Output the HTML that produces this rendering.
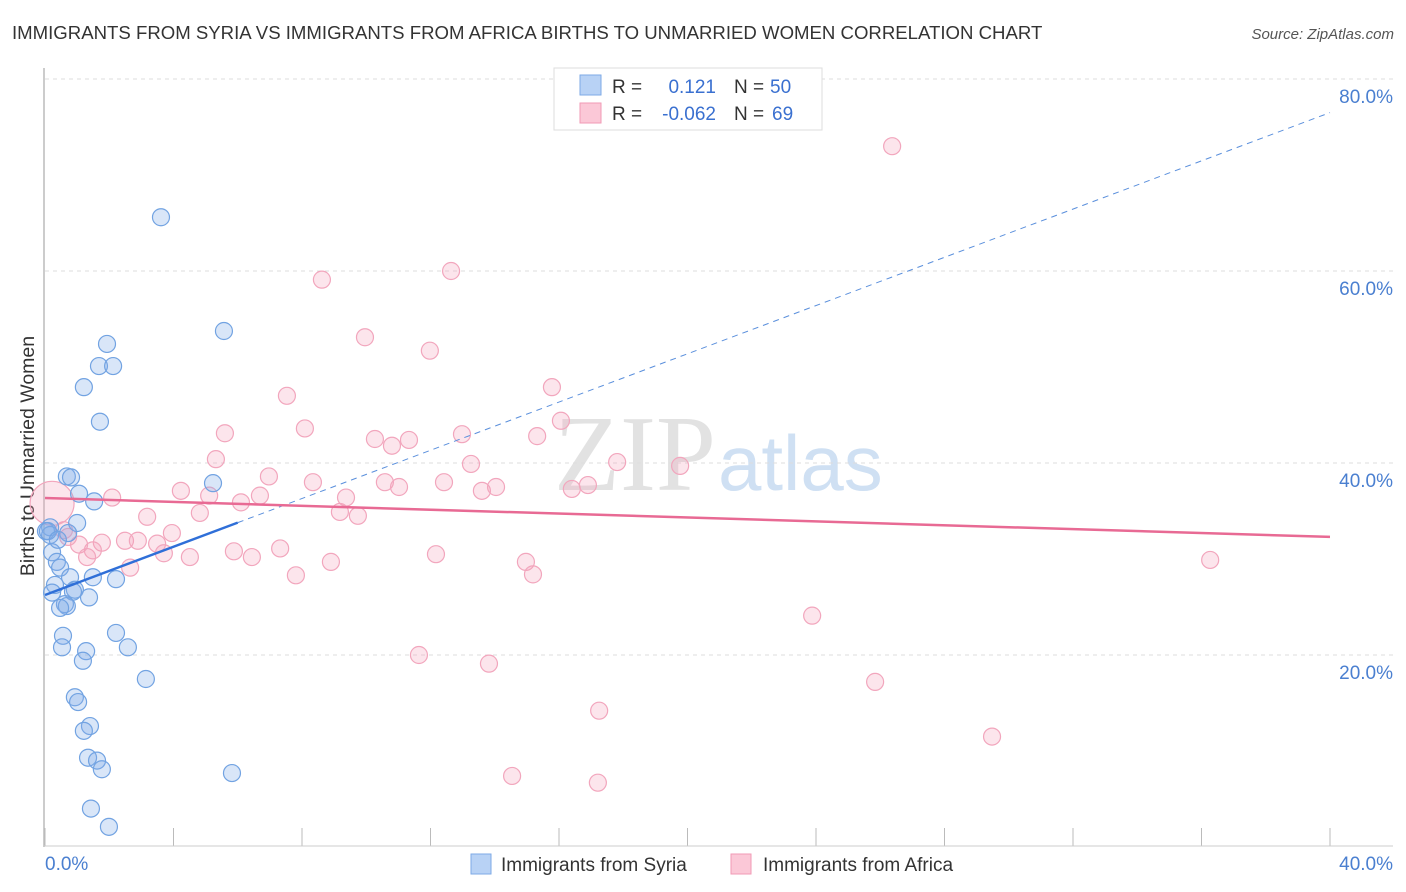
<!DOCTYPE html>
<html><head><meta charset="utf-8"><style>
body{margin:0;background:#fff;font-family:"Liberation Sans",sans-serif;}
svg{display:block}
</style></head><body>
<svg id="chart" width="1406" height="892">
<text x="12" y="39" font-size="18.6" fill="#333">IMMIGRANTS FROM SYRIA VS IMMIGRANTS FROM AFRICA BIRTHS TO UNMARRIED WOMEN CORRELATION CHART</text>
<text x="1394" y="39" font-size="15" fill="#555" font-style="italic" text-anchor="end">Source: ZipAtlas.com</text>
<text x="716" y="490" font-size="108" fill="#e2e2e2" text-anchor="end" font-family="Liberation Serif,serif">ZIP</text>
<text x="718" y="490" font-size="78" fill="#cfe0f3">atlas</text>
<g id="grid"></g>
<line x1="44" y1="68" x2="44" y2="847" stroke="#bbb" stroke-width="1.5"/>
<line x1="44" y1="846" x2="1393" y2="846" stroke="#ccc" stroke-width="1"/>
<text transform="translate(34,456) rotate(-90)" font-size="19.5" fill="#333" text-anchor="middle">Births to Unmarried Women</text>
<text x="45" y="870" font-size="19" fill="#4a7fd0">0.0%</text>
<text x="1393" y="870" font-size="19" fill="#4a7fd0" text-anchor="end">40.0%</text>
<g id="marks"></g>
<g>
<rect x="554" y="68" width="268" height="62" fill="#fff" stroke="#ddd"/>
<rect x="580" y="75" width="21" height="20" fill="#b8d2f5" stroke="#7eaae6"/>
<rect x="580" y="103" width="21" height="20" fill="#fbc8d7" stroke="#f09ab5"/>
<text x="612" y="93" font-size="19" fill="#333">R =</text>
<text x="716" y="93" font-size="19" fill="#3a70d0" text-anchor="end">0.121</text>
<text x="734" y="93" font-size="19" fill="#333">N =</text>
<text x="770" y="93" font-size="19" fill="#3a70d0">50</text>
<text x="612" y="120" font-size="19" fill="#333">R =</text>
<text x="716" y="120" font-size="19" fill="#3a70d0" text-anchor="end">-0.062</text>
<text x="734" y="120" font-size="19" fill="#333">N =</text>
<text x="772" y="120" font-size="19" fill="#3a70d0">69</text>
</g>
<g>
<rect x="471" y="854" width="20" height="20" fill="#b8d2f5" stroke="#7eaae6"/>
<text x="501" y="871" font-size="19" fill="#333">Immigrants from Syria</text>
</g>
<g>
<rect x="731" y="854" width="20" height="20" fill="#fbc8d7" stroke="#f09ab5"/>
<text x="763" y="871" font-size="19" fill="#333">Immigrants from Africa</text>
</g>
</svg>
<script>
const yTicks=[20,40,60,80];
const yTickLabels=["20.0%","40.0%","60.0%","80.0%"];
const xTicks=[0,4,8,12,16,20,24,28,32,36,40];
const syriaX=[3.61,5.57,1.93,1.68,2.12,1.21,1.71,5.23,0.68,0.81,1.06,1.53,1.0,0.16,0.03,0.72,0.22,0.37,0.47,0.78,1.49,2.21,0.31,0.93,0.87,0.22,1.37,0.62,0.68,0.47,2.21,0.56,0.53,2.58,1.28,1.18,3.14,0.93,1.03,1.40,1.21,1.34,1.62,1.77,5.82,1.43,1.99,0.16,0.09,0.40];
const syriaY=[65.6,53.75,52.4,50.1,50.1,47.9,44.3,37.9,38.6,38.5,36.8,36.0,33.75,33.3,32.9,32.7,30.7,29.7,29.1,28.1,28.1,27.9,27.3,26.8,26.6,26.5,26.0,25.3,25.1,24.9,22.3,22.0,20.8,20.8,20.4,19.4,17.5,15.6,15.1,12.6,12.1,9.3,9.0,8.1,7.7,4.0,2.1,32.5,32.9,32.0];
const africaX=[26.37,12.64,8.62,9.96,11.98,15.78,7.53,8.09,5.60,10.27,10.80,11.33,12.98,15.32,16.06,13.26,5.32,19.77,17.81,6.97,4.23,8.34,10.58,12.42,11.02,13.60,14.04,16.40,16.90,5.11,6.10,6.69,9.37,2.09,4.82,3.18,9.18,9.74,3.95,2.49,1.77,2.89,3.49,1.49,1.06,0.72,0.59,3.70,4.51,5.88,6.44,7.32,12.17,14.97,8.90,7.81,15.19,2.65,1.31,36.27,23.88,11.64,13.82,25.84,17.25,29.48,14.54,17.21,0.22];
const africaY=[73.0,60.0,59.1,53.1,51.7,47.9,47.0,43.6,43.1,42.5,41.8,42.4,43.0,42.8,44.4,39.9,40.4,39.7,40.1,38.6,37.1,38.0,38.0,38.0,37.5,37.1,37.5,37.3,37.7,36.6,35.9,36.6,36.4,36.4,34.8,34.4,34.9,34.5,32.7,31.9,31.7,31.9,31.6,30.9,31.5,32.3,33.0,30.6,30.2,30.8,30.2,31.1,30.5,29.7,29.7,28.3,28.4,29.1,30.2,29.9,24.1,20.0,19.1,17.2,14.2,11.5,7.4,6.7,35.8];
const syriaTrend=[26.25,76.5];
const africaTrend=[36.35,32.3];
const NS="http://www.w3.org/2000/svg";
const xs=v=>45+v*32.125, ys=v=>847-v*9.6;
function mk(t,a,p){const e=document.createElementNS(NS,t);for(const k in a)e.setAttribute(k,a[k]);p.appendChild(e);return e;}
const grid=document.getElementById('grid'),marks=document.getElementById('marks');
yTicks.forEach((t,i)=>{
 const l=mk('line',{x1:45,x2:1393,y1:ys(t),y2:ys(t),stroke:'#ddd','stroke-dasharray':'4,4'},grid);
 
 
 const tx=mk('text',{x:1393,y:ys(t)+24,'font-size':19,fill:'#4a7fd0','text-anchor':'end'},grid);
 tx.textContent=yTickLabels[i];
 
 
});
xTicks.forEach(t=>{
 const l=mk('line',{x1:xs(t),x2:xs(t),y1:828,y2:846,stroke:'#bbb'},grid);
 
 
});
africaX.forEach((x,i)=>{
 const big=i===africaX.length-1;
 const c=mk('circle',{cx:xs(x),cy:ys(africaY[i]),r:big?22:8.5,fill:'rgba(244,160,188,0.28)',stroke:'#f2a6bd','stroke-width':1.2},marks);
 
 
});
syriaX.forEach((x,i)=>{
 const c=mk('circle',{cx:xs(x),cy:ys(syriaY[i]),r:8.5,fill:'rgba(130,172,232,0.3)',stroke:'#72a3e2','stroke-width':1.2},marks);
 
 
});
const sy=x=>syriaTrend[0]+(syriaTrend[1]-syriaTrend[0])*x/40;
let l=mk('line',{x1:xs(0),y1:ys(sy(0)),x2:xs(6),y2:ys(sy(6)),stroke:'#2f6fd8','stroke-width':2.5},marks);


l=mk('line',{x1:xs(6),y1:ys(sy(6)),x2:xs(40),y2:ys(sy(40)),stroke:'#5a8fdc','stroke-width':1,'stroke-dasharray':'6,5'},marks);


l=mk('line',{x1:xs(0),y1:ys(africaTrend[0]),x2:xs(40),y2:ys(africaTrend[1]),stroke:'#e86a94','stroke-width':2.5},marks);


</script>
</body></html>
